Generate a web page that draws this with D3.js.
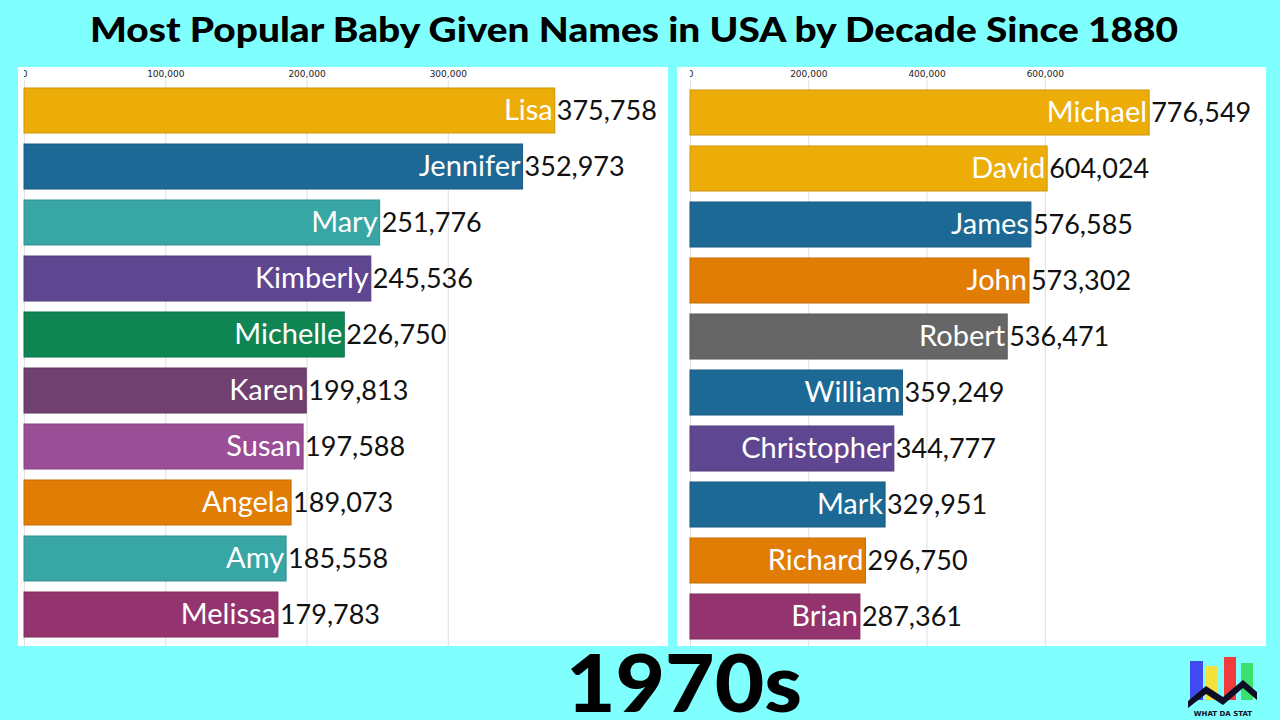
<!DOCTYPE html>
<html>
<head>
<meta charset="utf-8">
<script src="https://cdn.jsdelivr.net/npm/d3@7"></script>
<style>
  html, body { margin: 0; padding: 0; background: #80ffff; }
  svg { display: block; }
</style>
</head>
<body>
<div id="chart"></div>
<script>
(function () {
    'use strict';

    // Data: 1970s girls (left) and boys (right)
    const girlNames = ['Lisa', 'Jennifer', 'Mary', 'Kimberly', 'Michelle', 'Karen', 'Susan', 'Angela', 'Amy', 'Melissa'];
    const girlCounts = [375758, 352973, 251776, 245536, 226750, 199813, 197588, 189073, 185558, 179783];
    const girlColors = ['#edad08', '#1d6996', '#38a6a5', '#5f4690', '#0f8554', '#6f4070', '#994e95', '#e17c05', '#38a6a5', '#94346e'];
    const girlTicks = [0, 100000, 200000, 300000];

    const boyNames = ['Michael', 'David', 'James', 'John', 'Robert', 'William', 'Christopher', 'Mark', 'Richard', 'Brian'];
    const boyCounts = [776549, 604024, 576585, 573302, 536471, 359249, 344777, 329951, 296750, 287361];
    const boyColors = ['#edad08', '#edad08', '#1d6996', '#e17c05', '#666666', '#1d6996', '#5f4690', '#1d6996', '#e17c05', '#94346e'];
    const boyTicks = [0, 200000, 400000, 600000];

    const titleText = 'Most Popular Baby Given Names in USA by Decade Since 1880';
    const decadeText = '1970s';

    const W = 1280, H = 720;
    const LABEL_FONT = 'Lato, "Open Sans", sans-serif';

    const svg = d3.select('#chart').append('svg')
        .attr('width', W)
        .attr('height', H);

    svg.append('rect')
        .attr('width', W).attr('height', H)
        .attr('fill', '#80ffff');

    // Title
    svg.append('text')
        .attr('x', 634).attr('y', 42)
        .attr('text-anchor', 'middle')
        .attr('font-family', LABEL_FONT)
        .attr('font-weight', 900)
        .attr('font-size', 35)
        .attr('textLength', 1088)
        .attr('lengthAdjust', 'spacingAndGlyphs')
        .attr('fill', '#000')
        .text(titleText);

    /**
     * Draw one bar chart panel
     */
    function drawPanel(opts) {
        const g = svg.append('g');
        const x = d3.scaleLinear().domain(opts.domain).range(opts.range);
        const y = d3.scaleBand()
            .domain(opts.names)
            .range([opts.top, opts.top + 56 * 10 - 11])
            .paddingInner(11 / 56)
            .paddingOuter(0);

        // White panel
        g.append('rect')
            .attr('x', opts.panel[0]).attr('y', opts.panel[1])
            .attr('width', opts.panel[2]).attr('height', opts.panel[3])
            .attr('fill', '#fff');

        // Clip so the "0" tick label is cut at the origin like the original
        const clipId = 'clip-' + opts.id;
        g.append('clipPath').attr('id', clipId)
            .append('rect')
            .attr('x', x(0)).attr('y', opts.panel[1])
            .attr('width', opts.panel[0] + opts.panel[2] - x(0))
            .attr('height', opts.panel[3]);

        const axis = d3.axisTop(x)
            .tickValues(opts.ticks)
            .tickFormat(d3.format(','))
            .tickSize(-(opts.panel[1] + opts.panel[3] - 80))
            .tickPadding(3);

        const axisG = g.append('g')
            .attr('clip-path', `url(#${clipId})`)
            .append('g')
            .attr('transform', 'translate(0,80)')
            .call(axis);
        axisG.select('.domain').remove();
        axisG.selectAll('.tick line').attr('stroke', '#dedede');
        axisG.selectAll('.tick text')
            .attr('font-family', 'Verdana, "DejaVu Sans", sans-serif')
            .attr('font-size', 9)
            .attr('fill', '#222');

        const rows = opts.names.map((n, i) => ({ name: n, value: opts.values[i], color: opts.colors[i] }));

        g.selectAll('rect.bar')
            .data(rows)
            .enter()
            .append('rect')
            .attr('class', 'bar')
            .attr('x', x(0))
            .attr('y', d => y(d.name))
            .attr('width', d => x(d.value) - x(0))
            .attr('height', y.bandwidth())
            .attr('fill', d => d.color)
            .attr('stroke', d => d3.color(d.color).darker(0.4))
            .attr('stroke-width', 1);

        g.selectAll('text.name')
            .data(rows)
            .enter()
            .append('text')
            .attr('class', 'name')
            .attr('x', d => x(d.value) - 2)
            .attr('y', d => y(d.name) + y.bandwidth() / 2 + 9)
            .attr('text-anchor', 'end')
            .attr('font-family', LABEL_FONT)
            .attr('font-size', 29)
            .attr('fill', '#fff')
            .text(d => d.name);

        g.selectAll('text.value')
            .data(rows)
            .enter()
            .append('text')
            .attr('class', 'value')
            .attr('x', d => x(d.value) + 2)
            .attr('y', d => y(d.name) + y.bandwidth() / 2 + 9)
            .attr('font-family', LABEL_FONT)
            .attr('font-size', 27)
            .attr('fill', '#111')
            .text(d => d3.format(',')(d.value));
    }

    drawPanel({
        id: 'girls',
        names: girlNames, values: girlCounts, colors: girlColors, ticks: girlTicks,
        domain: [0, 400000], range: [24, 589],
        panel: [18, 67, 650, 579],
        top: 88
    });

    drawPanel({
        id: 'boys',
        names: boyNames, values: boyCounts, colors: boyColors, ticks: boyTicks,
        domain: [0, 800000], range: [690, 1163],
        panel: [677, 67, 589, 579],
        top: 90
    });

    // Decade label
    svg.append('text')
        .attr('x', 684).attr('y', 712)
        .attr('text-anchor', 'middle')
        .attr('font-family', LABEL_FONT)
        .attr('font-weight', 900)
        .attr('font-size', 80)
        .attr('textLength', 236)
        .attr('lengthAdjust', 'spacingAndGlyphs')
        .attr('fill', '#000')
        .text(decadeText);

    // Logo (bottom right)
    const logo = svg.append('g');
    const logoBars = [
        { x: 1190, y: 661, w: 13, color: '#3f4bf0' },
        { x: 1206, y: 666, w: 12, color: '#f5e13c' },
        { x: 1224, y: 657, w: 12, color: '#f03c3c' },
        { x: 1241, y: 663, w: 12, color: '#3ce06e' }
    ];
    logo.selectAll('rect')
        .data(logoBars)
        .enter()
        .append('rect')
        .attr('x', d => d.x).attr('y', d => d.y)
        .attr('width', d => d.w).attr('height', d => 700 - d.y)
        .attr('fill', d => d.color);
    logo.append('path')
        .attr('d', 'M1188,701 L1206,686 L1223,697 L1243,680 L1257,692 L1257,700 L1243,688 L1223,705 L1206,694 L1188,708 Z')
        .attr('fill', '#0d0d26');
    logo.append('text')
        .attr('x', 1223).attr('y', 716)
        .attr('text-anchor', 'middle')
        .attr('font-family', '"DejaVu Sans", sans-serif')
        .attr('font-weight', 'bold')
        .attr('font-size', 7)
        .attr('fill', '#0d0d26')
        .text('WHAT DA STAT');
})();
</script>
</body>
</html>
